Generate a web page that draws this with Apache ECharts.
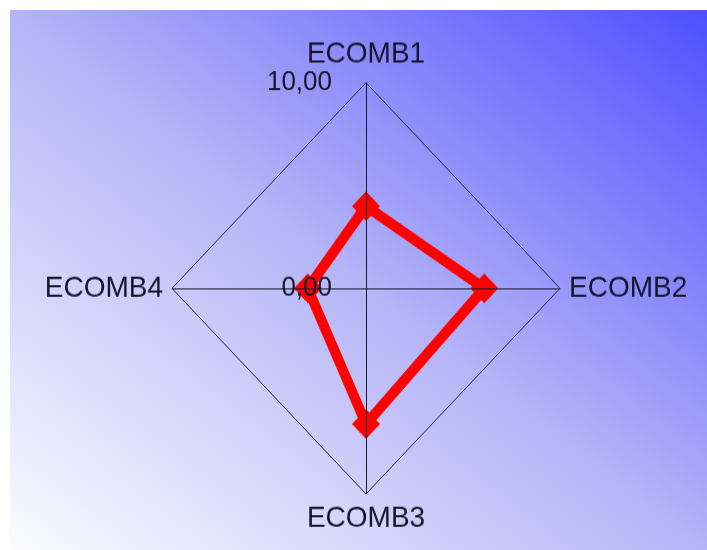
<!DOCTYPE html>
<html>
<head>
<meta charset="utf-8">
<script src="https://cdn.jsdelivr.net/npm/echarts@6/dist/echarts.min.js"></script>
<style>
  html, body { margin: 0; padding: 0; background: #fff; width: 707px; height: 550px; overflow: hidden; }
  #bg { position: absolute; left: 10px; top: 10px; width: 697px; height: 540px;
        background: linear-gradient(to top right, #fbfbff 0%, #b4b4f7 50%, #4f4fff 100%); }
  /* radar is drawn on a slightly taller-than-wide canvas */
  #chart { position: absolute; left: 0; top: 0; width: 707px; height: 519px;
           transform: scaleY(1.06); transform-origin: 0 0; }
</style>
</head>
<body>
<div id="bg"></div>
<div id="chart"></div>
<script>
// Indicators and scores
const categories = ['ECOMB1', 'ECOMB2', 'ECOMB3', 'ECOMB4'];
const values = [4.0, 6.1, 6.6, 3.0];
const axisMin = 0;
const axisMax = 10;

// ECharts lays radar indicators out counter-clockwise from the top;
// this order puts ECOMB2 on the right and ECOMB4 on the left.
const order = [0, 3, 2, 1];

const fontFamily = '"Liberation Sans", Arial, sans-serif';
const textColor = '#15152b';
const fmt = v => v.toFixed(2).replace('.', ',');

const indicator = order.map((i, k) => {
  const ind = { name: categories[i], min: axisMin, max: axisMax };
  if (k === 0) {
    ind.axisLabel = {
      show: true, margin: 34, fontSize: 26, color: textColor,
      fontFamily: fontFamily, formatter: fmt
    };
  }
  return ind;
});

const chart = echarts.init(document.getElementById('chart'), null, { renderer: 'canvas' });
chart.setOption({
  backgroundColor: 'transparent',
  animation: false,
  radar: {
    z: 3,                       // axes and labels sit on top of the red polygon
    center: [366, 272],
    radius: 194,
    startAngle: 90,
    shape: 'polygon',
    splitNumber: 1,
    nameGap: 9,
    axisName: { color: textColor, fontSize: 28, fontFamily: fontFamily },
    axisLine: { show: true, lineStyle: { color: '#1a1a33', width: 1 } },
    axisTick: { show: false },
    axisLabel: { show: false },
    splitLine: { show: true, lineStyle: { color: '#1f1f3d', width: 1 } },
    splitArea: { show: false },
    indicator: indicator
  },
  series: [{
    type: 'radar',
    z: 1,
    symbol: 'diamond',
    symbolSize: 28,
    lineStyle: { color: '#ff0000', width: 10 },
    itemStyle: { color: '#ff0000' },
    data: [{ value: order.map(i => values[i]) }]
  }]
});
</script>
</body>
</html>
